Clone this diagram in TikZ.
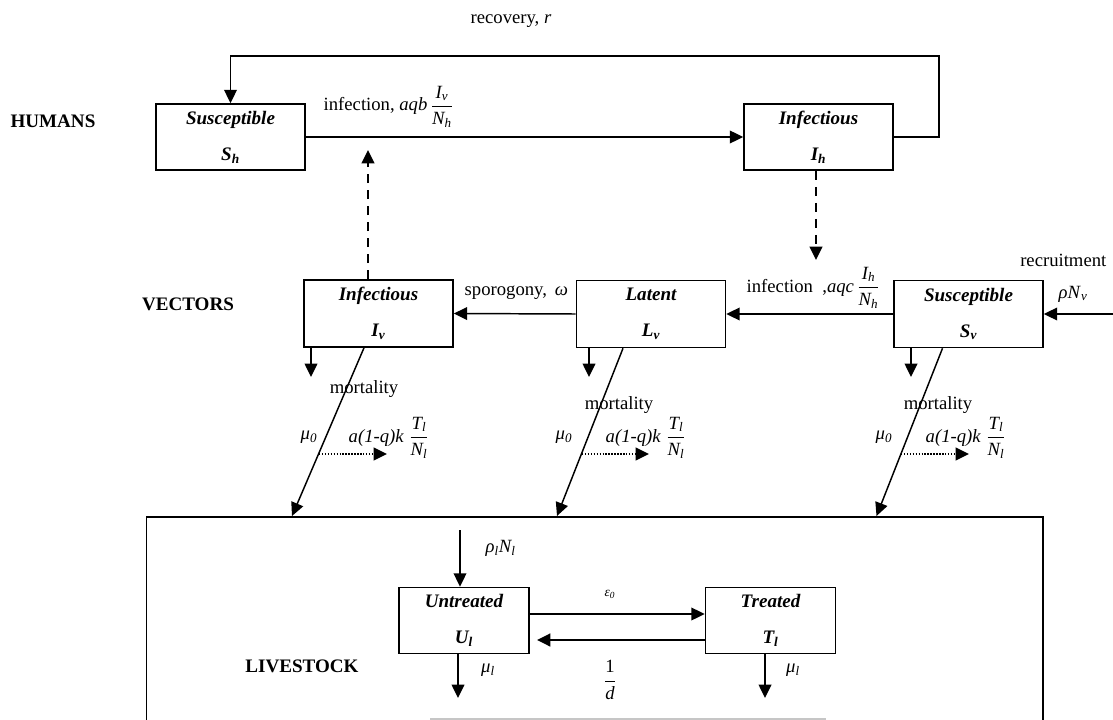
\documentclass[tikz,border=0pt]{standalone}
\usepackage{amsmath}
\usepackage{fontspec}
\setmainfont{Liberation Serif}
\usetikzlibrary{arrows.meta}
\newcommand{\vi}[1]{\textit{#1}}
\begin{document}
\begin{tikzpicture}[x=0.75pt,y=-0.75pt,
  every node/.style={font=\fontsize{14}{16}\selectfont},
  box/.style={draw, line width=1.2pt, minimum width=111.75pt, minimum height=49.5pt,
    inner sep=0pt, align=center, font=\fontsize{14.3}{17}\selectfont\bfseries\itshape},
  sbox/.style={box, minimum width=97.5pt},
  ln/.style={line width=1.1pt},
  arr/.style={ln, -{Triangle[length=10pt,width=9.5pt]}},
  dsh/.style={arr, dash pattern=on 7pt off 5pt, line width=1.6pt},
  dotarr/.style={arr, dash pattern=on 1.1pt off 1.1pt, line width=1.4pt},
  grp/.style={font=\fontsize{14.3}{17}\selectfont\bfseries}
]
\useasboundingbox (0,0) rectangle (1113,720);
\clip (0,0) rectangle (1113,720);

% group labels
\node[grp] (hum) at (53,121) {HUMANS};
\node[grp] (vec) at (188,304) {VECTORS};
\node[grp] (liv) at (302,666) {LIVESTOCK};

% livestock enclosure
\node[draw, line width=1.2pt, minimum width=672.4pt, minimum height=200pt,
  anchor=north west, inner sep=0pt] (LS) at (145.5,516) {};

% compartments
\node[box] (Sh) at (230.5,137) {Susceptible\\[10pt]S\textsubscript{h}};
\node[box] (Ih) at (818.5,137) {Infectious\\[10pt]I\textsubscript{h}};
\node[box, minimum height=50.25pt] (Iv) at (378.5,313.5) {Infectious\\[10pt]I\textsubscript{v}};
\node[box, minimum height=50.25pt] (Lv) at (651,314) {Latent\\[10pt]L\textsubscript{v}};
\node[box, minimum height=50.25pt] (Sv) at (968.5,314) {Susceptible\\[10pt]S\textsubscript{v}};
\node[sbox] (Ul) at (464,620.5) {Untreated\\[10pt]U\textsubscript{l}};
\node[sbox] (Tl) at (770.5,620.5) {Treated\\[10pt]T\textsubscript{l}};

% humans
\coordinate (rt) at (939,56);
\draw[arr] (Ih.east) -| (rt) -| (Sh.north);
\draw[arr] (Sh.east) -- (Ih.west);
\node at (511,21) {recovery, \vi{r}};
\node[anchor=base west] at (319,111) {infection, \vi{aqb}\,$\dfrac{\vi{I}_{\vi{v}}}{\vi{N}_{\vi{h}}}$};

% cross links
\coordinate (du) at (368,150);
\draw[dsh] (Iv.north -| du) -- (du);
\coordinate (dd) at (816,260);
\draw[dsh] (Ih.south -| dd) -- (dd);

% vectors
\draw[arr] (Lv.west) -- (Iv.east);
\draw[arr] (Sv.west) -- (Lv.east);
\coordinate (rc) at (1113,314);
\draw[arr] (rc) -- (Sv.east);
\node[anchor=base west] at (460,296) {sporogony,\, \vi{ω}};
\node[anchor=base west] at (742,292) {infection\enspace,\vi{aqc}\,$\dfrac{\vi{I}_{\vi{h}}}{\vi{N}_{\vi{h}}}$};
\node[anchor=base east] at (1111,267) {recruitment};
\node[anchor=base west] at (1054,298) {\vi{ρN}\textsubscript{\vi{v}}};

\foreach \b/\x in {Iv/311, Lv/589, Sv/911} {
  \coordinate (m\b) at (\x,377);
  \draw[arr] (\b.south -| m\b) -- (m\b);
}
\foreach \b/\xs/\xe in {Iv/364/292, Lv/623/557, Sv/942.5/876.5} {
  \coordinate (s\b) at (\xs,0);
  \coordinate (e\b) at (\xe,516);
  \draw[arr] (\b.south -| s\b) -- (e\b);
}
\foreach \b/\xa/\xb in {Iv/319/387, Lv/582/649, Sv/901/969} {
  \coordinate (pa\b) at (\xa,454);
  \coordinate (pb\b) at (\xb,454);
  \draw[dotarr] (pa\b) -- (pb\b);
}
\node[anchor=base] at (364,393) {mortality};
\node[anchor=base] at (619,409) {mortality};
\node[anchor=base] at (938,409) {mortality};
\foreach \x in {309,564,884} { \node at (\x,437) {\vi{μ\textsubscript{0}}}; }
\foreach \x in {344,601,921} {
  \node[anchor=base west] at (\x,442) {\vi{a(1-q)k}\;$\dfrac{\vi{T}_{\vi{l}}}{\vi{N}_{\vi{l}}}$};
}

% livestock
\coordinate (rho) at (460,530);
\draw[arr] (rho) -- (Ul.north -| rho);
\node[anchor=west] at (481,548) {\vi{ρ\textsubscript{l}N\textsubscript{l}}};
\coordinate (epsY) at (0,614);
\draw[arr] (Ul.east |- epsY) -- (Tl.west |- epsY);
\node[font=\fontsize{10}{12}\selectfont] at (610,594) {\vi{ε\textsubscript{0}}};
\coordinate (dEnd) at (537,640);
\draw[arr, line width=1.8pt] (Tl.west |- dEnd) -- (dEnd);
\node at (610,680) {$\dfrac{\text{1}}{\vi{d}}$};
\coordinate (mu1) at (458,698);
\draw[arr] (Ul.south -| mu1) -- (mu1);
\coordinate (mu2) at (765,698);
\draw[arr] (Tl.south -| mu2) -- (mu2);
\node at (488,670) {\vi{μ\textsubscript{l}}};
\node at (793,670) {\vi{μ\textsubscript{l}}};
\draw[gray!45, line width=1pt] (430,719) -- (826,719);
\end{tikzpicture}
\end{document}
